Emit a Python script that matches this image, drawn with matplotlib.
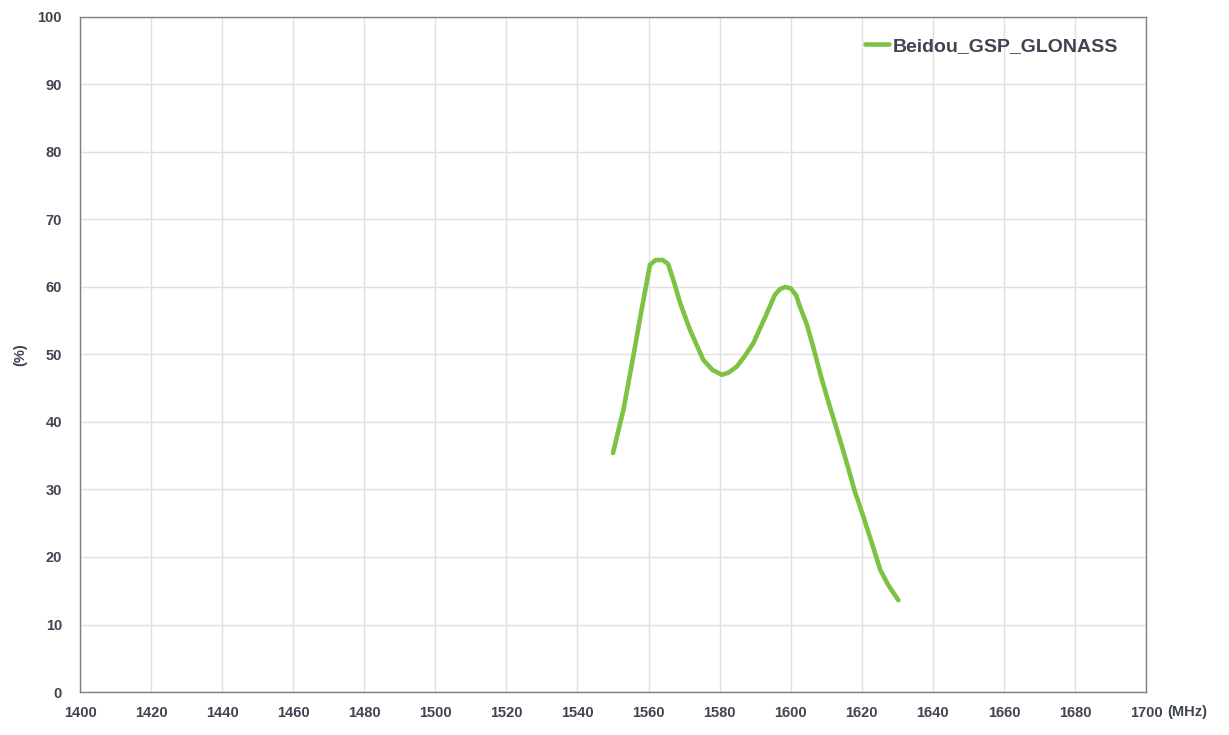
import matplotlib.pyplot as plt

freq = [1550, 1553, 1555.7, 1558, 1560.4, 1562, 1564, 1565.5, 1567, 1568.9,
        1571.7, 1575.4, 1578, 1580.6, 1582.5, 1584.8, 1587, 1589.5, 1593.3,
        1595.5, 1597.0, 1598.5, 1600, 1601.5, 1602.6, 1604.5, 1606.3, 1608.5,
        1611, 1613.5, 1615.8, 1618, 1620.5, 1623, 1625.2, 1627.5, 1630.3]
eff = [35.4, 42.0, 49.7, 56.5, 63.3, 64.0, 64.0, 63.4, 61.0, 57.6,
       53.6, 49.2, 47.7, 47.0, 47.3, 48.2, 49.7, 51.7, 56.1,
       58.8, 59.7, 60.0, 59.8, 58.8, 57.1, 54.5, 51.2, 46.8,
       42.3, 38.0, 33.9, 29.8, 25.9, 21.8, 18.1, 15.8, 13.6]
series_name = "Beidou_GSP_GLONASS"
xticks = list(range(1400, 1701, 20))
yticks = list(range(0, 101, 10))

plt.rcParams['font.family'] = ['Liberation Sans', 'DejaVu Sans']
txt_col = "#3f4450"

fig = plt.figure(figsize=(12.29, 7.35), dpi=100)
ax = fig.add_axes([0.0651, 0.0585, 0.8674, 0.9184])

ax.plot(freq, eff, color="#7dc242", linewidth=3.3, solid_capstyle="round",
        solid_joinstyle="round", label=series_name)

ax.set_xlim(1400, 1700)
ax.set_ylim(0, 100)
ax.set_xticks(xticks)
ax.set_yticks(yticks)
ax.grid(True, color="#e0e0e0", linewidth=1)
ax.set_axisbelow(True)
ax.tick_params(length=0, labelsize=10.5, labelcolor=txt_col)
ax.tick_params(axis="x", pad=10)
ax.tick_params(axis="y", pad=13)
for lab in ax.get_xticklabels() + ax.get_yticklabels():
    lab.set_fontweight("bold")
for s in ax.spines.values():
    s.set_color("#808080")
    s.set_linewidth(1)

ax.annotate("(MHz)", xy=(1, 0), xycoords="axes fraction", xytext=(15.5, -14.6),
            textcoords="offset points", fontsize=10.5, fontweight="bold",
            color=txt_col, ha="left", va="center")
ax.set_ylabel("(%)", fontsize=10.5, fontweight="bold", color=txt_col, labelpad=7)

leg = ax.legend(loc="upper right", bbox_to_anchor=(0.981, 0.981), frameon=False,
                handlelength=1.2, handletextpad=0.2, fontsize=14, borderaxespad=0)
for t in leg.get_texts():
    t.set_fontweight("bold")
    t.set_color(txt_col)

fig.savefig("out.png", dpi=100)
